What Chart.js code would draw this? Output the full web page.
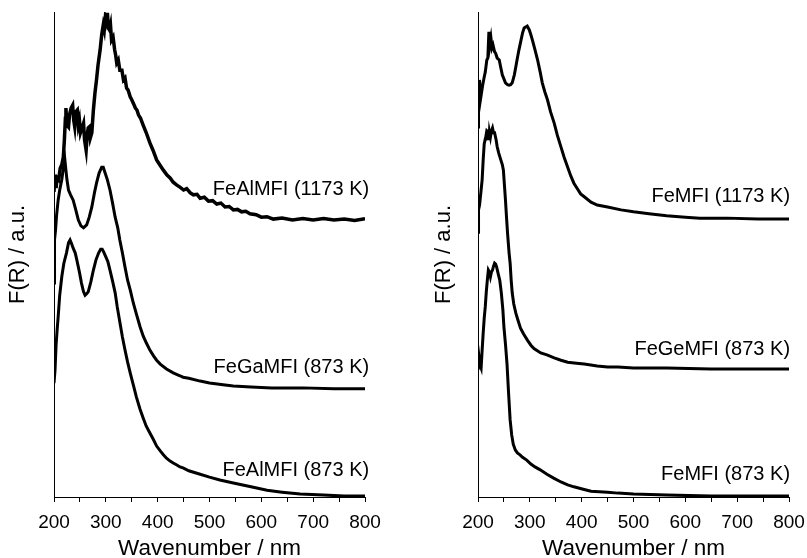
<!DOCTYPE html>
<html lang="en">

<head>
    <meta charset="UTF-8">
    <title>F(R) spectra</title>
    <style>
        html, body { margin: 0; padding: 0; background: #fff; overflow: hidden; }
        .panel { position: absolute; top: 0; }
        #leftPanel { left: 0; }
        #rightPanel { left: 400px; }
    </style>
</head>

<body>

    <canvas id="leftPanel" class="panel" width="400" height="558"></canvas>
    <canvas id="rightPanel" class="panel" width="407" height="558"></canvas>

    <script src="https://cdn.jsdelivr.net/npm/chart.js"></script>

<script>
    // ---- left panel: FeAlMFI / FeGaMFI ----
    var feAl1173Wl = [200, 202, 204, 206, 209, 212, 215, 218, 220, 222, 223, 225, 228, 230, 233, 236, 238, 240, 242, 245,
        247, 249, 251, 254, 257, 259, 262, 264, 266, 268, 270, 273, 276, 279, 282, 285, 289, 292, 295, 297,
        299, 301, 303, 305, 307, 309, 311, 314, 317, 319, 321, 324, 327, 331, 334, 337, 340, 343, 347, 350,
        353, 357, 360, 363, 367, 372, 378, 385, 391, 398, 404, 411, 418, 424, 430, 437, 443, 450, 456, 463,
        469, 476, 482, 490, 498, 506, 514, 522, 530, 538, 546, 554, 562, 570, 578, 590, 600, 611, 623, 640,
        660, 680, 700, 720, 740, 760, 780, 800];
    var feAl1173 = [62.9, 66.4, 63.7, 65.8, 65.4, 67.8, 68.5, 70.1, 73.6, 78.1, 80.2, 76.7, 76.3, 78.8, 80.2, 80.8, 77.7, 76.3, 79.4, 79.8,
        76.7, 77.7, 75.1, 76.1, 77.1, 73.6, 71.5, 74.6, 76.1, 76.3, 74.0, 75.1, 79.8, 83.3, 86.0, 89.1, 92.2, 95.3, 97.3, 96.3,
        98.8, 98.0, 99.8, 96.7, 96.3, 97.3, 94.2, 94.8, 92.2, 91.1, 89.5, 90.1, 88.0, 88.0, 86.0, 86.4, 84.3, 83.9, 82.5, 81.9,
        81.2, 80.2, 79.8, 78.8, 78.1, 76.7, 75.1, 73.0, 71.5, 69.5, 68.5, 67.4, 66.4, 65.8, 64.9, 64.3, 63.9, 63.3, 63.6, 62.7,
        62.3, 62.4, 61.6, 61.8, 61.0, 61.1, 60.4, 60.6, 59.8, 59.9, 59.2, 59.3, 58.8, 58.9, 58.4, 58.2, 57.7, 57.8, 57.3, 57.5,
        57.1, 57.4, 57.1, 57.4, 57.1, 57.3, 57.0, 57.4];

    var feGa873Wl = [200, 201, 203, 205, 208, 211, 215, 218, 221, 223, 225, 228, 232, 237, 242, 247, 252, 257, 263, 268,
        273, 278, 282, 287, 292, 295, 298, 303, 308, 313, 318, 323, 327, 332, 337, 342, 347, 353, 359, 366,
        372, 378, 385, 392, 398, 405, 417, 430, 443, 449, 460, 482, 500, 530, 546, 580, 620, 680, 740, 800];
    var feGa873 = [44.1, 53.0, 55.1, 58.1, 61.2, 63.3, 65.4, 67.8, 69.5, 67.4, 65.4, 63.3, 62.3, 61.2, 59.2, 57.1, 55.9, 55.5, 56.1, 57.7,
        59.8, 62.7, 64.7, 66.8, 68.0, 68.0, 67.0, 65.4, 63.3, 60.6, 57.7, 55.5, 53.0, 50.3, 47.4, 44.7, 42.7, 40.0, 37.7, 35.1,
        33.2, 31.8, 30.3, 29.1, 28.2, 27.4, 26.4, 25.6, 25.0, 24.7, 24.5, 23.9, 23.5, 23.1, 22.9, 22.7, 22.5, 22.5, 22.3, 22.3];

    var feAl873Wl = [200, 202, 204, 206, 208, 211, 215, 219, 224, 228, 231, 234, 237, 241, 244, 249, 253, 257, 260, 263,
        266, 271, 276, 281, 286, 290, 293, 296, 300, 304, 308, 313, 318, 322, 327, 332, 337, 342, 347, 353,
        359, 366, 372, 378, 385, 392, 398, 405, 411, 417, 424, 430, 437, 443, 449, 460, 482, 500, 520, 546,
        580, 611, 640, 675, 720, 760, 800];
    var feAl873 = [23.5, 26.2, 31.3, 34.4, 37.1, 41.6, 45.4, 48.2, 50.3, 52.4, 53.0, 52.2, 51.3, 50.3, 48.9, 46.4, 44.1, 42.3, 41.6, 41.9,
        42.3, 44.3, 46.8, 48.9, 50.3, 51.1, 51.1, 50.5, 49.5, 48.5, 46.8, 44.5, 42.1, 39.2, 36.1, 33.0, 30.3, 27.8, 25.6, 23.1,
        20.6, 18.1, 16.3, 14.6, 13.2, 11.8, 10.5, 9.5, 8.7, 8.0, 7.4, 7.0, 6.6, 6.2, 6.0, 5.4, 4.7, 4.1, 3.5, 2.9,
        2.1, 1.4, 1.0, 0.6, 0.4, 0.2, 0.2];

    // ---- right panel: FeMFI / FeGeMFI ----
    var fe1173Wl = [200, 201, 202, 203, 205, 207, 209, 212, 214, 217, 219, 221, 223, 225, 227, 229, 232, 234, 237, 241,
        244, 247, 250, 253, 257, 260, 263, 266, 270, 273, 276, 279, 283, 286, 289, 292, 295, 299, 302, 305,
        310, 315, 320, 324, 329, 334, 340, 347, 353, 360, 366, 373, 379, 385, 392, 398, 405, 418, 430, 450,
        476, 500, 530, 564, 600, 628, 680, 740, 800];
    var fe1173 = [76.3, 84.9, 82.1, 86.0, 82.1, 83.5, 84.9, 86.6, 87.6, 90.1, 90.5, 95.9, 93.2, 94.6, 92.6, 93.2, 91.8, 91.5, 90.5, 90.1,
        88.5, 87.0, 86.2, 85.4, 85.0, 84.9, 85.0, 85.4, 87.0, 88.7, 90.5, 92.2, 94.2, 95.7, 96.7, 96.9, 97.1, 96.3, 95.3, 94.2,
        92.2, 90.1, 87.6, 85.4, 83.5, 81.9, 79.4, 77.1, 74.6, 72.2, 70.1, 68.0, 66.2, 64.7, 63.5, 62.5, 61.9, 60.8, 60.2, 59.8,
        59.2, 58.8, 58.4, 58.0, 57.7, 57.5, 57.5, 57.3, 57.3];

    var feGe873Wl = [200, 201, 203, 204, 206, 208, 210, 212, 214, 215, 217, 219, 221, 222, 224, 226, 228, 230, 232, 235,
        237, 240, 244, 247, 249, 251, 253, 255, 257, 260, 262, 264, 266, 269, 273, 277, 282, 288, 295, 302,
        308, 321, 333, 347, 360, 373, 390, 405, 430, 450, 470, 500, 564, 650, 800];
    var feGe873 = [54.6, 59.2, 60.2, 61.2, 63.3, 65.4, 69.5, 72.8, 73.8, 74.2, 75.5, 75.3, 73.6, 75.3, 74.2, 75.5, 76.1, 75.1, 75.1, 73.6,
        72.2, 70.9, 69.5, 68.5, 67.4, 64.3, 61.2, 57.7, 54.4, 50.3, 48.2, 44.7, 42.1, 39.8, 37.9, 36.5, 34.8, 33.6, 32.4, 31.3,
        30.6, 29.7, 29.3, 28.7, 28.2, 27.8, 27.6, 27.4, 27.0, 26.8, 26.8, 26.6, 26.6, 26.4, 26.4];

    var fe873Wl = [200, 202, 204, 206, 208, 210, 212, 214, 216, 218, 220, 222, 224, 226, 228, 230, 232, 234, 236, 239,
        242, 245, 248, 250, 253, 256, 259, 262, 265, 268, 272, 276, 281, 286, 294, 302, 310, 320, 333, 346,
        360, 373, 385, 403, 418, 450, 470, 500, 564, 650, 800];
    var fe873 = [26.2, 28.9, 27.2, 26.6, 30.3, 33.8, 36.9, 39.2, 42.3, 44.7, 46.8, 46.4, 45.4, 46.4, 46.8, 47.6, 48.2, 48.0, 47.4, 46.0,
        44.7, 42.1, 38.6, 35.1, 31.5, 27.4, 21.4, 15.9, 12.8, 10.9, 9.7, 9.1, 8.7, 8.2, 7.6, 6.8, 6.2, 5.6, 4.7, 3.9,
        3.1, 2.5, 2.1, 1.6, 1.2, 1.0, 0.8, 0.6, 0.4, 0.2, 0.2];

    var xTicks = [200, 300, 400, 500, 600, 700, 800];

    var leftNames = ['FeAlMFI (1173 K)', 'FeGaMFI (873 K)', 'FeAlMFI (873 K)'];
    var rightNames = ['FeMFI (1173 K)', 'FeGeMFI (873 K)', 'FeMFI (873 K)'];

    var fontFamily = '"Liberation Sans", Arial, Helvetica, sans-serif';
    Chart.defaults.font.family = fontFamily;
    Chart.defaults.color = '#000';

    function pairs(xs, ys) {
        return xs.map(function (x, i) { return { x: x, y: ys[i] }; });
    }

    function serie(xs, ys, width) {
        return {
            data: pairs(xs, ys),
            showLine: true,
            borderColor: '#000',
            backgroundColor: '#000',
            borderWidth: width,
            pointRadius: 0,
            tension: 0,
            fill: false
        };
    }

    // curve names written at the right end of each trace
    var curveNames = {
        id: 'curveNames',
        afterDatasetsDraw: function (chart, args, opts) {
            var ctx = chart.ctx;
            var sx = chart.scales.x, sy = chart.scales.y;
            ctx.save();
            ctx.font = '20px ' + fontFamily;
            ctx.fillStyle = '#000';
            ctx.textAlign = 'right';
            ctx.textBaseline = 'middle';
            opts.names.forEach(function (name, i) {
                ctx.fillText(name, sx.getPixelForValue(opts.at[i][0]), sy.getPixelForValue(opts.at[i][1]));
            });
            ctx.restore();
        }
    };

    function makePanel(id, datasets, names, at, pad, axisWidth) {
        return new Chart(document.getElementById(id), {
            type: 'scatter',
            data: { datasets: datasets },
            plugins: [curveNames],
            options: {
                responsive: false,
                animation: false,
                layout: { padding: pad },
                plugins: {
                    legend: { display: false },
                    tooltip: { enabled: false },
                    curveNames: { names: names, at: at }
                },
                scales: {
                    x: {
                        type: 'linear',
                        min: 200,
                        max: 800,
                        afterFit: function (s) {
                            s.height = 61;
                            // let the end labels hang past the plot edge
                            s.paddingLeft = 0;
                            s.paddingRight = 0;
                        },
                        afterBuildTicks: function (s) {
                            var t = [];
                            for (var v = 200; v <= 800; v += 50) t.push({ value: v });
                            s.ticks = t;
                        },
                        ticks: {
                            autoSkip: false,
                            maxRotation: 0,
                            padding: 9,
                            font: { size: 19 },
                            color: '#000',
                            callback: function (v) { return xTicks.indexOf(v) >= 0 ? String(v) : ''; }
                        },
                        grid: {
                            drawOnChartArea: false,
                            drawTicks: true,
                            tickLength: 5,
                            color: '#000',
                            lineWidth: 1
                        },
                        border: { display: true, color: '#000', width: 1 },
                        title: {
                            display: true,
                            text: 'Wavenumber / nm',
                            font: { size: 22.5 },
                            color: '#000',
                            padding: { top: 0, bottom: -4 }
                        }
                    },
                    y: {
                        min: 0,
                        max: 100,
                        afterFit: function (s) {
                            s.width = axisWidth;
                            s.paddingTop = 0;
                            s.paddingBottom = 0;
                        },
                        ticks: { display: false },
                        grid: { display: false },
                        border: { display: true, color: '#000', width: 1 },
                        title: {
                            display: true,
                            text: 'F(R) / a.u.',
                            font: { size: 22 },
                            color: '#000',
                            padding: { top: 5, bottom: 0 }
                        }
                    }
                }
            }
        });
    }

    makePanel('leftPanel', [
        serie(feAl1173Wl, feAl1173, 3.5),
        serie(feGa873Wl, feGa873, 3),
        serie(feAl873Wl, feAl873, 3)
    ], leftNames, [[808, 63.5], [808, 26.8], [808, 5.4]],
        { top: 12, right: 35, left: 0, bottom: 0 }, 54);

    makePanel('rightPanel', [
        serie(fe1173Wl, fe1173, 3),
        serie(feGe873Wl, feGe873, 3),
        serie(fe873Wl, fe873, 3)
    ], rightNames, [[802, 61.9], [802, 30.5], [802, 4.7]],
        { top: 12, right: 18, left: 26, bottom: 0 }, 52);
</script>

</body>

</html>
